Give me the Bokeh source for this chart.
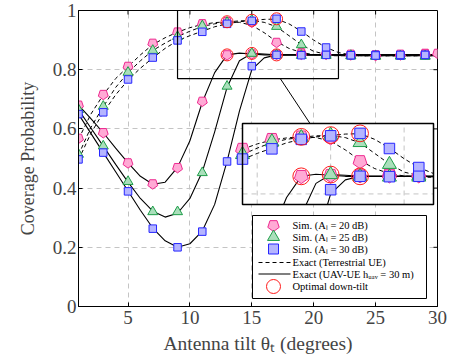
import math
from bokeh.plotting import figure
from bokeh.models import Range1d, FixedTicker
from bokeh.core.properties import value
from bokeh.embed import file_html
from bokeh.resources import INLINE

# ---------------- data ----------------
x_sim = [1, 3, 5, 7, 9, 11, 13, 15, 17, 19, 21, 23, 25, 27, 29]
x_sim_pink_t = [1, 3, 5, 7, 9, 11, 13, 15, 17, 19, 21, 23, 25, 27, 29, 30]

# simulation, terrestrial UE (dashed)
sim_t_20 = [0.568, 0.716, 0.811, 0.889, 0.927, 0.955, 0.962, 0.960, 0.892, 0.857, 0.852, 0.850, 0.848, 0.850, 0.855, 0.855]
sim_t_25 = [0.514, 0.676, 0.791, 0.865, 0.912, 0.948, 0.960, 0.967, 0.946, 0.884, 0.852, 0.848, 0.846, 0.846, 0.846]
sim_t_30 = [0.497, 0.656, 0.767, 0.841, 0.899, 0.928, 0.955, 0.965, 0.972, 0.929, 0.875, 0.849, 0.850, 0.848, 0.850]

# simulation, UAV-UE (solid)
sim_u_20 = [0.680, 0.587, 0.485, 0.414, 0.469, 0.693, 0.850, 0.853, 0.852, 0.852, 0.855, 0.852, 0.850, 0.852, 0.853]
sim_u_25 = [0.665, 0.542, 0.422, 0.320, 0.320, 0.452, 0.744, 0.855, 0.850, 0.848, 0.848, 0.846, 0.845, 0.846, 0.845]
sim_u_30 = [0.650, 0.520, 0.389, 0.263, 0.200, 0.253, 0.490, 0.812, 0.850, 0.849, 0.850, 0.849, 0.848, 0.850, 0.850]

# exact curves
x_exact = list(range(1, 31))
ex_t_20 = [0.565, 0.650, 0.715, 0.770, 0.810, 0.850, 0.885, 0.908, 0.927, 0.942, 0.953, 0.959, 0.962, 0.960, 0.950,
           0.925, 0.895, 0.872, 0.858, 0.851, 0.848, 0.847, 0.847, 0.847, 0.847, 0.847, 0.847, 0.847, 0.847, 0.847]
ex_t_25 = [0.512, 0.605, 0.675, 0.740, 0.790, 0.830, 0.865, 0.890, 0.912, 0.930, 0.946, 0.955, 0.961, 0.965, 0.966,
           0.960, 0.945, 0.915, 0.885, 0.862, 0.852, 0.848, 0.847, 0.847, 0.847, 0.847, 0.847, 0.847, 0.847, 0.847]
ex_t_30 = [0.495, 0.585, 0.655, 0.715, 0.765, 0.805, 0.840, 0.872, 0.898, 0.915, 0.930, 0.945, 0.955, 0.962, 0.966,
           0.970, 0.971, 0.955, 0.930, 0.900, 0.875, 0.858, 0.850, 0.847, 0.847, 0.847, 0.847, 0.847, 0.847, 0.847]
ex_u_20 = [0.680, 0.635, 0.587, 0.535, 0.485, 0.440, 0.413, 0.420, 0.470, 0.560, 0.690, 0.790, 0.850, 0.856, 0.853,
           0.850, 0.850, 0.850, 0.850, 0.850, 0.850, 0.850, 0.850, 0.850, 0.850, 0.850, 0.850, 0.850, 0.850, 0.850]
ex_u_25 = [0.665, 0.603, 0.542, 0.480, 0.420, 0.365, 0.322, 0.302, 0.315, 0.365, 0.455, 0.590, 0.740, 0.830, 0.855,
           0.853, 0.850, 0.850, 0.850, 0.850, 0.850, 0.850, 0.850, 0.850, 0.850, 0.850, 0.850, 0.850, 0.850, 0.850]
ex_u_30 = [0.650, 0.585, 0.520, 0.455, 0.390, 0.325, 0.265, 0.222, 0.200, 0.212, 0.255, 0.345, 0.490, 0.660, 0.800,
           0.840, 0.850, 0.850, 0.850, 0.850, 0.850, 0.850, 0.850, 0.850, 0.850, 0.850, 0.850, 0.850, 0.850, 0.850]

# optimal down-tilt
opt_x = [13, 15, 17, 13, 15, 17]
opt_y = [0.962, 0.967, 0.972, 0.850, 0.855, 0.850]

x_ticks = [5, 10, 15, 20, 25, 30]
y_ticks = [0, 0.2, 0.4, 0.6, 0.8, 1]
y_tick_labels = ["0", "0.2", "0.4", "0.6", "0.8", "1"]

legend_labels = ["Sim. (A\u2097 = 20 dB)", "Sim. (A\u2097 = 25 dB)", "Sim. (A\u2097 = 30 dB)",
                 "Exact (Terrestrial UE)", "Exact (UAV-UE h\u1d64\u2090\u1d65 = 30 m)", "Optimal down-tilt"]

# zoomed region (data units) and inset grid
zoom_x = (9, 22)
zoom_y = (0.77, 1.0)
inset_xgrid = [10, 15, 20]
inset_ygrid = [0.8]

# ---------------- layout constants (pixels) ----------------
FONT = "Liberation Serif"
W, H = 466, 362
BL, BR, BT, BB = 78, 29, 10, 56
FW, FH = W - BL - BR, H - BT - BB          # frame size in px
INSET_PX = (164, 355, 102, 183)            # left, right, bottom, top inside frame (px)
LEG_BOX = (174, 348, 8, 91)
LEG_ROWS = [81, 69.5, 57.5, 44, 32.5, 20]
LEG_MARK_X, LEG_LINE_X, LEG_TEXT_X = 195, (180, 212), 214

PINK_F, PINK_L = "#ffaad5", "#ee2a90"
GREEN_F, GREEN_L = "#aadfbb", "#1f9e4a"
BLUE_F, BLUE_L = "#b5b5ff", "#2626ff"
RED = "#ff1a1a"
GRID_C = "#c4c4c4"
PENT_ANGLE = math.pi

XR, YR = (1, 30), (0, 1)

p = figure(width=W, height=H, x_range=Range1d(*XR), y_range=Range1d(*YR),
           output_backend="svg", toolbar_location=None,
           min_border_left=BL, min_border_right=BR, min_border_top=BT, min_border_bottom=BB)
p.outline_line_color = "black"
p.outline_line_width = 1

# pixel ranges inside the frame
p.extra_x_ranges["px"] = Range1d(0, FW)
p.extra_y_ranges["px"] = Range1d(0, FH)


def lin_range(lo_px, hi_px, lo_v, hi_v, total):
    k = (hi_v - lo_v) / (hi_px - lo_px)
    return Range1d(lo_v - lo_px * k, lo_v + (total - lo_px) * k)


p.extra_x_ranges["inset"] = lin_range(INSET_PX[0], INSET_PX[1], zoom_x[0], zoom_x[1], FW)
p.extra_y_ranges["inset"] = lin_range(INSET_PX[2], INSET_PX[3], zoom_y[0], zoom_y[1], FH)

# axes
p.xaxis.ticker = FixedTicker(ticks=x_ticks)
p.yaxis.ticker = FixedTicker(ticks=y_ticks)
p.yaxis.major_label_overrides = {t: l for t, l in zip(y_ticks, y_tick_labels)}
p.xaxis.axis_label = "Antenna tilt \u03b8\u209c (degrees)"
p.yaxis.axis_label = "Coverage Probability"
for ax in list(p.xaxis) + list(p.yaxis):
    ax.axis_label_text_font = FONT
    ax.axis_label_text_font_style = "normal"
    ax.major_label_text_font = FONT
    ax.major_label_text_font_size = "19px"
    ax.major_tick_in = 4
    ax.major_tick_out = 0
    ax.minor_tick_line_color = None
    ax.axis_line_color = "black"
    ax.major_tick_line_color = "black"
p.xaxis.axis_label_text_font_size = "19.5px"
p.yaxis.axis_label_text_font_size = "18px"
p.xaxis.axis_label_standoff = 6
p.xaxis.major_label_standoff = 4
p.yaxis.axis_label_standoff = 12
p.yaxis.major_label_standoff = 2

p.xgrid.ticker = FixedTicker(ticks=x_ticks[:-1])
p.ygrid.ticker = FixedTicker(ticks=y_ticks[1:-1])
for g in [p.xgrid, p.ygrid]:
    g.grid_line_color = GRID_C
    g.grid_line_dash = "5 4"
    g.grid_line_width = 1

# inward ticks on the top and right sides
p.segment(x0=x_ticks[:-1], x1=x_ticks[:-1], y0=[FH] * 5, y1=[FH - 4] * 5,
          y_range_name="px", line_color="black", line_width=1)
p.segment(x0=[FW] * 5, x1=[FW - 4] * 5, y0=y_ticks[:-1], y1=y_ticks[:-1],
          x_range_name="px", line_color="black", line_width=1)


def clip_polyline(xs, ys, x0, x1, y0, y1):
    """Liang-Barsky clip of a polyline to a box, returns list of pieces."""
    pieces, cur = [], None
    for i in range(len(xs) - 1):
        ax_, ay_, bx_, by_ = xs[i], ys[i], xs[i + 1], ys[i + 1]
        dx, dy = bx_ - ax_, by_ - ay_
        t0, t1, ok = 0.0, 1.0, True
        for pp, qq in ((-dx, ax_ - x0), (dx, x1 - ax_), (-dy, ay_ - y0), (dy, y1 - ay_)):
            if pp == 0:
                if qq < 0:
                    ok = False
                    break
            else:
                t = qq / pp
                if pp < 0:
                    t0 = max(t0, t)
                else:
                    t1 = min(t1, t)
        if not ok or t0 > t1:
            cur = None
            continue
        sx, sy = ax_ + t0 * dx, ay_ + t0 * dy
        ex, ey = ax_ + t1 * dx, ay_ + t1 * dy
        if cur is None or t0 > 0:
            cur = ([sx], [sy])
            pieces.append(cur)
        cur[0].append(ex)
        cur[1].append(ey)
        if t1 < 1:
            cur = None
    return pieces


def inside(xs, ys):
    pts = [(a, b) for a, b in zip(xs, ys) if zoom_x[0] <= a <= zoom_x[1] and zoom_y[0] <= b <= zoom_y[1]]
    return [a for a, _ in pts], [b for _, b in pts]


def draw(s, inset=False):
    kw = dict(x_range_name="inset", y_range_name="inset") if inset else {}

    def L(xs, ys, **st):
        if inset:
            for px_, py_ in clip_polyline(xs, ys, zoom_x[0], zoom_x[1], zoom_y[0], zoom_y[1]):
                p.line(px_, py_, **kw, **st)
        else:
            p.line(xs, ys, **st)

    def M(xs, ys):
        return inside(xs, ys) if inset else (xs, ys)

    for ys in (ex_t_20, ex_t_25, ex_t_30):
        L(x_exact, ys, line_color="black", line_width=1, line_dash="4 3")
    for ys in (ex_u_20, ex_u_25, ex_u_30):
        L(x_exact, ys, line_color="black", line_width=1.1)
    for xs, ys in ((x_sim_pink_t, sim_t_20), (x_sim, sim_u_20)):
        mx, my = M(xs, ys)
        p.ngon(mx, my, radius=5.2 * s, radius_units="screen", n=5, angle=PENT_ANGLE,
               fill_color=PINK_F, line_color=PINK_L, line_width=1, **kw)
    for ys in (sim_t_25, sim_u_25):
        mx, my = M(x_sim, ys)
        p.scatter(mx, my, marker="triangle", size=10 * s, fill_color=GREEN_F,
                  line_color=GREEN_L, line_width=1, **kw)
    for ys in (sim_t_30, sim_u_30):
        mx, my = M(x_sim, ys)
        p.scatter(mx, my, marker="square", size=7.5 * s, fill_color=BLUE_F,
                  line_color=BLUE_L, line_width=1, **kw)
    mx, my = M(opt_x, opt_y)
    p.scatter(mx, my, marker="circle", size=12 * s, fill_color=None,
              line_color=RED, line_width=1, **kw)


# main curves
draw(1.0)

# zoom rectangle + connector
p.quad(left=[zoom_x[0]], right=[zoom_x[1]], bottom=[zoom_y[0]], top=[zoom_y[1]],
       fill_color=None, line_color="black", line_width=1.2)
conn_px = ((INSET_PX[0] + INSET_PX[1]) / 2 - 28, INSET_PX[3])
conn_x = XR[0] + conn_px[0] / FW * (XR[1] - XR[0])
conn_y = YR[0] + conn_px[1] / FH * (YR[1] - YR[0])
p.segment(x0=[17.3], y0=[zoom_y[0]], x1=[conn_x], y1=[conn_y], line_color="black", line_width=1)

# inset
ik = dict(x_range_name="inset", y_range_name="inset")
p.quad(left=[zoom_x[0]], right=[zoom_x[1]], bottom=[zoom_y[0]], top=[zoom_y[1]],
       fill_color="white", line_color=None, **ik)
p.segment(x0=inset_xgrid, x1=inset_xgrid, y0=[zoom_y[0]] * 3, y1=[zoom_y[1]] * 3,
          line_color=GRID_C, line_dash="5 4", line_width=1, **ik)
p.segment(x0=[zoom_x[0]], x1=[zoom_x[1]], y0=inset_ygrid, y1=inset_ygrid,
          line_color=GRID_C, line_dash="5 4", line_width=1, **ik)
draw(1.4, inset=True)
p.quad(left=[zoom_x[0]], right=[zoom_x[1]], bottom=[zoom_y[0]], top=[zoom_y[1]],
       fill_color=None, line_color="black", line_width=1.5, **ik)

# legend (drawn in frame pixels)
pk = dict(x_range_name="px", y_range_name="px")
p.quad(left=[LEG_BOX[0]], right=[LEG_BOX[1]], bottom=[LEG_BOX[2]], top=[LEG_BOX[3]],
       fill_color="white", line_color="black", line_width=1, **pk)
p.ngon([LEG_MARK_X], [LEG_ROWS[0]], radius=6, radius_units="screen", n=5, angle=PENT_ANGLE,
       fill_color=PINK_F, line_color=PINK_L, line_width=1, **pk)
p.scatter([LEG_MARK_X], [LEG_ROWS[1]], marker="triangle", size=12, fill_color=GREEN_F,
          line_color=GREEN_L, line_width=1, **pk)
p.scatter([LEG_MARK_X], [LEG_ROWS[2]], marker="square", size=10, fill_color=BLUE_F,
          line_color=BLUE_L, line_width=1, **pk)
p.segment(x0=[LEG_LINE_X[0]], x1=[LEG_LINE_X[1]], y0=[LEG_ROWS[3]], y1=[LEG_ROWS[3]],
          line_color="black", line_width=1, line_dash="4 3", **pk)
p.segment(x0=[LEG_LINE_X[0]], x1=[LEG_LINE_X[1]], y0=[LEG_ROWS[4]], y1=[LEG_ROWS[4]],
          line_color="black", line_width=1.1, **pk)
p.scatter([LEG_MARK_X], [LEG_ROWS[5]], marker="circle", size=14, fill_color=None,
          line_color=RED, line_width=1, **pk)
p.text(x=[LEG_TEXT_X] * 6, y=LEG_ROWS, text=legend_labels, text_font=value(FONT),
       text_font_size="10.5px", text_baseline="middle", text_color="black", **pk)

open("out.html", "w").write(file_html(p, INLINE))
